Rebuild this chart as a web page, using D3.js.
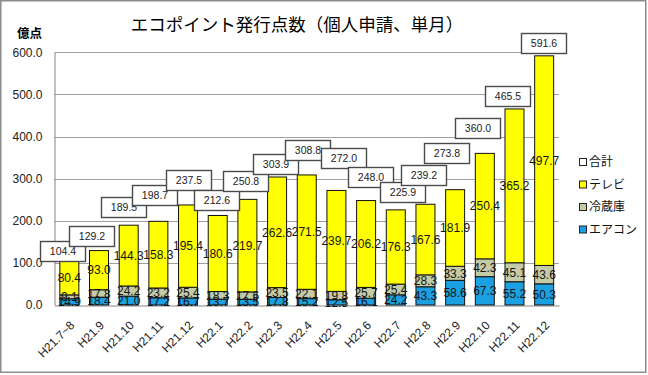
<!DOCTYPE html>
<html>
<head>
<meta charset="utf-8">
<script src="https://cdn.jsdelivr.net/npm/d3@7"></script>
<style>
  body { margin: 0; background: #fff; }
  svg { display: block; }
  .num { font-family: "Liberation Sans", Arial, sans-serif; }
  .jp { font-family: "Noto Sans CJK JP", sans-serif; }
</style>
</head>
<body>
<svg id="chart" width="648" height="375"></svg>
<script>
// data (億点)
var categories = ["H21.7~8", "H21.9", "H21.10", "H21.11", "H21.12", "H22.1", "H22.2", "H22.3",
    "H22.4", "H22.5", "H22.6", "H22.7", "H22.8", "H22.9", "H22.10", "H22.11", "H22.12"];
var aircon = [14.9, 18.4, 21.0, 17.2, 16.7, 13.7, 13.5, 17.8, 15.2, 12.5, 16.1, 24.2, 43.3, 58.6, 67.3, 55.2, 50.3];
var fridge = [9.1, 17.8, 24.2, 23.2, 25.4, 18.3, 17.6, 23.5, 22.1, 19.8, 25.7, 25.4, 28.3, 33.3, 42.3, 45.1, 43.6];
var tv = [80.4, 93.0, 144.3, 158.3, 195.4, 180.6, 219.7, 262.6, 271.5, 239.7, 206.2, 176.3, 167.6, 181.9, 250.4, 365.2, 497.7];
var total = [104.4, 129.2, 189.5, 198.7, 237.5, 212.6, 250.8, 303.9, 308.8, 272.0, 248.0, 225.9, 239.2, 273.8, 360.0, 465.5, 591.6];
var yTicks = [0, 100, 200, 300, 400, 500, 600];
var seriesNames = ["エアコン", "冷蔵庫", "テレビ"];

// manual nudges of the total boxes (dx px, lift px above bar top), like the hand-moved Excel labels
var boxNudge = [[-7, 0], [-8, 5], [-5, 8], [-3.5, 16], [0, 15], [-1.5, 5.5], [-1.5, 8.5], [-1.5, 3], [1, 15],
    [7, 22.5], [4, 13.5], [7, 8], [-2, 19], [-9, 26.5], [-7.5, 15.5], [-6.5, 3], [-0.5, 3]];

var colors = ["#1ba1e2", "#c4cba6", "#ffff00"];

var svg = d3.select("#chart");

// outer frame
svg.append("rect")
    .attr("x", 0.75).attr("y", 0.75)
    .attr("width", 645).attr("height", 371.5)
    .attr("fill", "#fff")
    .attr("stroke", "#8c8c8c")
    .attr("stroke-width", 1.5);

var x = d3.scaleBand()
    .domain(categories)
    .range([54.5, 559])
    .paddingInner(0.36)
    .paddingOuter(0.18);

var y = d3.scaleLinear()
    .domain([0, 600])
    .range([305, 52.3]);

// gridlines
svg.append("g")
    .selectAll("line")
    .data(yTicks.slice(1))
  .enter().append("line")
    .attr("x1", 54.5).attr("x2", 559)
    .attr("y1", function(d) { return Math.round(y(d)) + 0.5; })
    .attr("y2", function(d) { return Math.round(y(d)) + 0.5; })
    .attr("stroke", "#a0a0a0")
    .attr("stroke-width", 1);

// y axis
var yAxis = svg.append("g")
    .attr("transform", "translate(54.5,0)")
    .call(d3.axisLeft(y).tickValues(yTicks).tickSize(0).tickPadding(12).tickFormat(d3.format(".1f")));
yAxis.select(".domain").attr("stroke", "#868686");
yAxis.selectAll("text")
    .attr("class", "num")
    .attr("font-size", 12)
    .attr("fill", "#222");

// x axis
var xAxis = svg.append("g")
    .attr("transform", "translate(0,305.5)")
    .call(d3.axisBottom(x).tickSize(0).tickFormat(""));
xAxis.select(".domain").attr("stroke", "#868686");

svg.append("g")
    .selectAll("text")
    .data(categories)
  .enter().append("text")
    .attr("class", "num")
    .attr("font-size", 12)
    .attr("fill", "#222")
    .attr("text-anchor", "end")
    .attr("dy", "0.35em")
    .attr("transform", function(d) {
        return "translate(" + (x(d) + x.bandwidth() / 2 + 3) + ",323) rotate(-45)";
    })
    .text(function(d) { return d; });

// stacked bars
var rows = categories.map(function(c, i) {
    return {cat: c, a: aircon[i], f: fridge[i], t: tv[i]};
});
var stack = d3.stack().keys(["a", "f", "t"]);
var layers = stack(rows);

var barG = svg.append("g");
layers.forEach(function(layer, k) {
    barG.append("g")
        .selectAll("rect")
        .data(layer)
      .enter().append("rect")
        .attr("x", function(d) { return x(d.data.cat); })
        .attr("width", x.bandwidth())
        .attr("y", function(d) { return y(d[1]); })
        .attr("height", function(d) { return y(d[0]) - y(d[1]); })
        .attr("fill", colors[k])
        .attr("stroke", "#111")
        .attr("stroke-width", 1);
});

// segment labels
layers.forEach(function(layer, k) {
    svg.append("g")
        .selectAll("text")
        .data(layer)
      .enter().append("text")
        .attr("class", "num")
        .attr("font-size", 12)
        .attr("fill", "#151515")
        .attr("text-anchor", "middle")
        .attr("dy", "0.36em")
        .attr("x", function(d) { return x(d.data.cat) + x.bandwidth() / 2; })
        .attr("y", function(d) { return (y(d[0]) + y(d[1])) / 2; })
        .text(function(d) { return d3.format(".1f")(d[1] - d[0]); });
});

// total boxes
var boxW = 45, boxH = 20;
var totals = svg.append("g")
    .selectAll("g")
    .data(total)
  .enter().append("g")
    .attr("transform", function(d, i) {
        var cx = x(categories[i]) + x.bandwidth() / 2 + boxNudge[i][0];
        var bottom = y(d) - boxNudge[i][1];
        return "translate(" + (Math.round(cx - boxW / 2) + 0.5) + "," + (Math.round(bottom - boxH) + 0.5) + ")";
    });
totals.append("rect")
    .attr("width", boxW).attr("height", boxH)
    .attr("fill", "#fff")
    .attr("stroke", "#4a4a4a")
    .attr("stroke-width", 1.4);
totals.append("text")
    .attr("class", "num")
    .attr("font-size", 10.5)
    .attr("fill", "#222")
    .attr("text-anchor", "middle")
    .attr("x", boxW / 2).attr("y", boxH / 2)
    .attr("dy", "0.36em")
    .text(function(d) { return d3.format(".1f")(d); });

// title
svg.append("text")
    .attr("class", "jp")
    .attr("x", 297).attr("y", 25)
    .attr("dy", "0.36em")
    .attr("text-anchor", "middle")
    .attr("font-size", 17.5)
    .attr("fill", "#000")
    .text("エコポイント発行点数（個人申請、単月）");

svg.append("text")
    .attr("class", "jp")
    .attr("x", 29.5).attr("y", 33)
    .attr("dy", "0.36em")
    .attr("text-anchor", "middle")
    .attr("font-size", 12.5)
    .attr("font-weight", "bold")
    .attr("fill", "#000")
    .text("億点");

// legend
var legendItems = [{name: "合計", color: "#fff"}]
    .concat(seriesNames.map(function(n, k) { return {name: n, color: colors[k]}; }).reverse());
var legend = svg.append("g")
    .selectAll("g")
    .data(legendItems)
  .enter().append("g")
    .attr("transform", function(d, i) { return "translate(579," + (162 + i * 22.5) + ")"; });
legend.append("rect")
    .attr("x", 0.5).attr("y", -3.5)
    .attr("width", 7).attr("height", 7)
    .attr("fill", function(d) { return d.color; })
    .attr("stroke", "#222")
    .attr("stroke-width", 1);
legend.append("text")
    .attr("class", "jp")
    .attr("x", 10).attr("y", 0)
    .attr("dy", "0.36em")
    .attr("font-size", 12)
    .attr("fill", "#111")
    .text(function(d) { return d.name; });
</script>
</body>
</html>
